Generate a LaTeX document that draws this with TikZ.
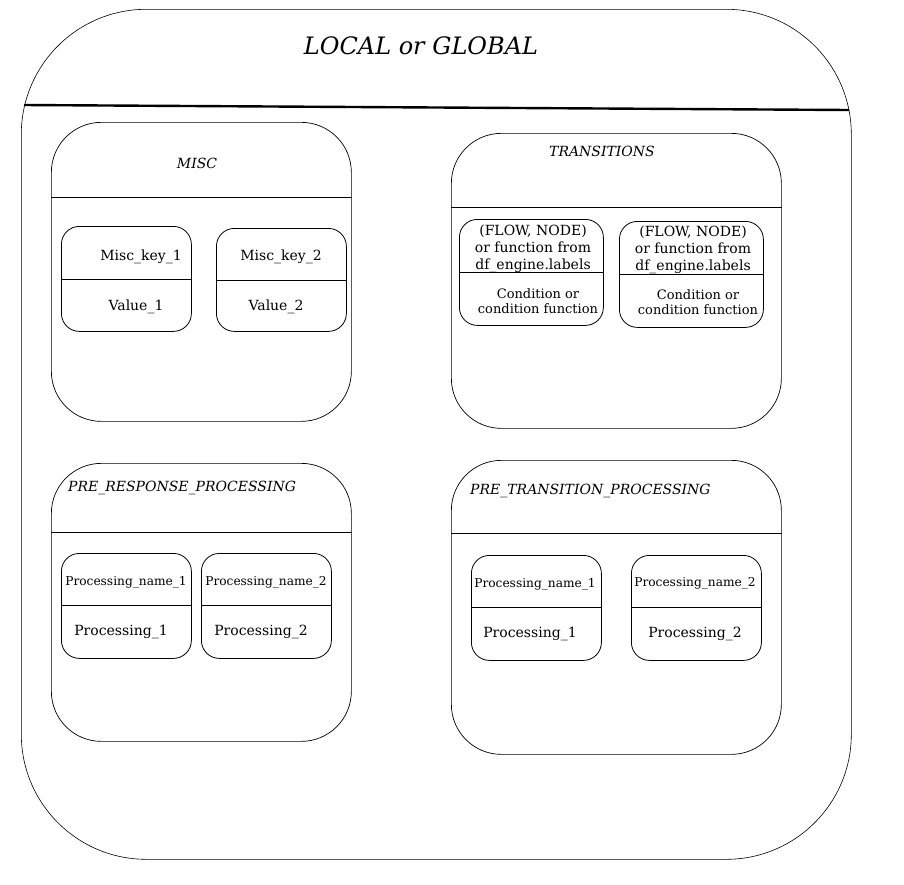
\documentclass[tikz,border=0pt]{standalone}
\usepackage{fontspec}
\setmainfont{DejaVu Serif}
\begin{document}
\begin{tikzpicture}[x=1pt,y=-1pt,
  outerframe/.style={draw, line width=0.6pt, rounded corners=125pt, anchor=north west, inner sep=0pt},
  panel/.style={draw, line width=0.7pt, rounded corners=50pt, anchor=north west, inner sep=0pt},
  cell/.style={draw, line width=0.8pt, rounded corners=18pt, anchor=north west, inner sep=0pt},
  divider/.style={line width=0.8pt},
  txt/.style={inner sep=0pt, yshift=-2pt},
  ttl/.style={txt, font=\itshape\fontsize{14}{16}\selectfont},
  lbl/.style={txt, font=\fontsize{14}{16}\selectfont},
  tiny/.style={txt, font=\fontsize{12.2}{14}\selectfont},
  trans/.style={txt, font=\fontsize{14}{17}\selectfont, align=center},
  cond/.style={txt, font=\fontsize{13}{15}\selectfont, align=center}]
\useasboundingbox (0,0) rectangle (904,884);
% outer frame
\node[outerframe, minimum width=830pt, minimum height=850pt] (outer) at (21,9) {};
\draw[line width=2.4pt] (24,105) -- (849,110);
\node[txt, font=\itshape\fontsize{24}{26}\selectfont] (title) at (421,44) {LOCAL or GLOBAL};
% MISC
\node[panel, minimum width=300pt, minimum height=299pt] (misc) at (51,122) {};
\draw[divider] (misc.west |- 0,197) -- (misc.east |- 0,197);
\node[ttl] (miscT) at (197,161) {MISC};
\node[cell, minimum width=130pt, minimum height=105pt] (m1) at (61,226) {};
\draw[divider] (m1.west |- 0,279) -- (m1.east |- 0,279);
\node[lbl] (m1k) at (141,255) {Misc\_key\_1};
\node[lbl] (m1v) at (136,305) {Value\_1};
\node[cell, minimum width=130pt, minimum height=103pt] (m2) at (216,228) {};
\draw[divider] (m2.west |- 0,280) -- (m2.east |- 0,280);
\node[lbl] (m2k) at (281,255) {Misc\_key\_2};
\node[lbl] (m2v) at (276,305) {Value\_2};
% TRANSITIONS
\node[panel, minimum width=330pt, minimum height=295pt] (tr) at (451,133) {};
\draw[divider] (tr.west |- 0,207) -- (tr.east |- 0,207);
\node[ttl] (trT) at (602,149) {TRANSITIONS};
\node[cell, minimum width=144pt, minimum height=106pt] (t1) at (459,219) {};
\draw[divider] (t1.west |- 0,272) -- (t1.east |- 0,272);
\node[trans] (t1k) at (533,247) {(FLOW, NODE)\\or function from\\df\_engine.labels};
\node[cond] (t1v) at (538,299.5) {Condition or\\condition function};
\node[cell, minimum width=144pt, minimum height=106pt] (t2) at (619,221) {};
\draw[divider] (t2.west |- 0,274) -- (t2.east |- 0,274);
\node[trans] (t2k) at (693,248) {(FLOW, NODE)\\or function from\\df\_engine.labels};
\node[cond] (t2v) at (698,300.5) {Condition or\\condition function};
% PRE_RESPONSE_PROCESSING
\node[panel, minimum width=300pt, minimum height=278pt] (prp) at (51,463) {};
\draw[divider] (prp.west |- 0,532) -- (prp.east |- 0,532);
\node[ttl, anchor=west] (prpT) at (68,486) {PRE\_RESPONSE\_PROCESSING};
\node[cell, minimum width=130pt, minimum height=105pt] (p1) at (61,553) {};
\draw[divider] (p1.west |- 0,605) -- (p1.east |- 0,605);
\node[tiny] (p1k) at (126,580) {Processing\_name\_1};
\node[lbl] (p1v) at (121,630) {Processing\_1};
\node[cell, minimum width=130pt, minimum height=105pt] (p2) at (201,553) {};
\draw[divider] (p2.west |- 0,605) -- (p2.east |- 0,605);
\node[tiny] (p2k) at (266,580) {Processing\_name\_2};
\node[lbl] (p2v) at (261,630) {Processing\_2};
% PRE_TRANSITION_PROCESSING
\node[panel, minimum width=330pt, minimum height=294pt] (ptp) at (451,460) {};
\draw[divider] (ptp.west |- 0,533) -- (ptp.east |- 0,533);
\node[ttl, anchor=west] (ptpT) at (470,489) {PRE\_TRANSITION\_PROCESSING};
\node[cell, minimum width=130pt, minimum height=105pt] (q1) at (471,555) {};
\draw[divider] (q1.west |- 0,607) -- (q1.east |- 0,607);
\node[tiny] (q1k) at (535,582) {Processing\_name\_1};
\node[lbl] (q1v) at (530,632) {Processing\_1};
\node[cell, minimum width=130pt, minimum height=105pt] (q2) at (631,555) {};
\draw[divider] (q2.west |- 0,607) -- (q2.east |- 0,607);
\node[tiny] (q2k) at (695,581) {Processing\_name\_2};
\node[lbl] (q2v) at (695,632) {Processing\_2};
\end{tikzpicture}
\end{document}
